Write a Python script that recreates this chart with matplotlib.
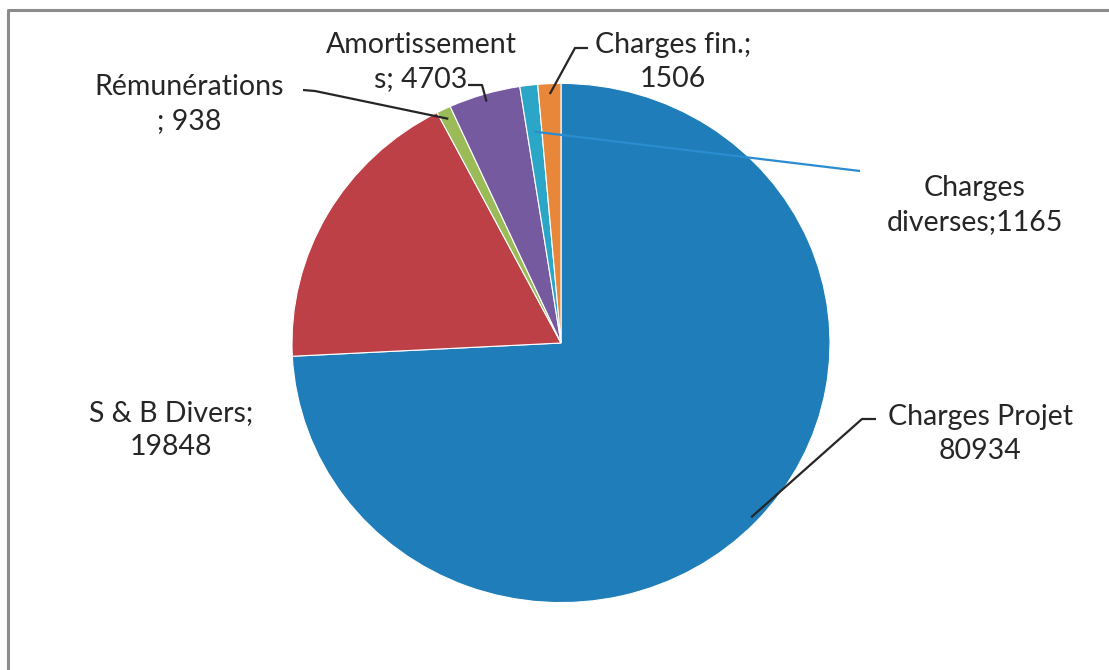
import numpy as np
import matplotlib.pyplot as plt

# categories / values
labels = ["Charges Projet\n80934", "S & B Divers;\n19848", "Rémunérations\n; 938",
          "Amortissement\ns; 4703", "Charges\ndiverses;1165", "Charges fin.;\n1506"]
values = [80934, 19848, 938, 4703, 1165, 1506]
colors = ["#1F7DB9", "#BD4046", "#9BBB59", "#755AA0", "#2BA6C6", "#E8873A"]

plt.rcParams['font.family'] = ['Lato', 'DejaVu Sans']

W, H = 1109, 670
K = 0.965   # the original picture is slightly squashed vertically

fig = plt.figure(figsize=(W / 100, H / 100), dpi=100)
ax = fig.add_axes([0, 0, 1, 1])

cx, cy, R = 561, 343 / K, 269
wedges, _ = ax.pie(values, colors=colors, startangle=-90, counterclock=True,
                   center=(cx, cy), radius=R, frame=True,
                   wedgeprops=dict(edgecolor='white', linewidth=0.8))
ax.set_aspect('auto')
ax.set_xlim(0, W)
ax.set_ylim(H / K, 0)
ax.axis('off')

# label block centre (pixels), leader path (elbow points), radius fraction for the anchor, line colour
text_pos = [(980, 434), (171, 430), (189, 104), (421, 62), (975, 205), (673, 62)]
leaders = [
    ([(862, 419), (876, 419)], 0.975, '#262626'),
    (None, None, None),
    ([(315, 91), (303, 90)], 0.96, '#262626'),
    ([(482, 85), (468, 85)], 0.97, '#262626'),
    ([(860, 171)], 0.82, '#2B8CD0'),
    ([(575, 48), (588, 48)], 0.96, '#262626'),
]

for w, lab, pos, (path, rf, lc) in zip(wedges, labels, text_pos, leaders):
    ax.text(pos[0], pos[1] / K, lab, ha='center', va='center', fontsize=20.5,
            color='#262626', linespacing=1.4, multialignment='center')
    if path is None:
        continue
    mid = np.radians((w.theta1 + w.theta2) / 2)
    x0 = cx + rf * R * np.cos(mid)
    y0 = cy + rf * R * np.sin(mid)
    xs = [x0] + [p[0] for p in path]
    ys = [y0] + [p[1] / K for p in path]
    ax.plot(xs, ys, color=lc, lw=1.6, solid_capstyle='butt')

# chart-area border
ax.plot([8, 8, W + 5], [(H + 5) / K, 10 / K, 10 / K], color='#8C8C8C', lw=2.2, clip_on=False)

fig.savefig("out.png", dpi=100)
